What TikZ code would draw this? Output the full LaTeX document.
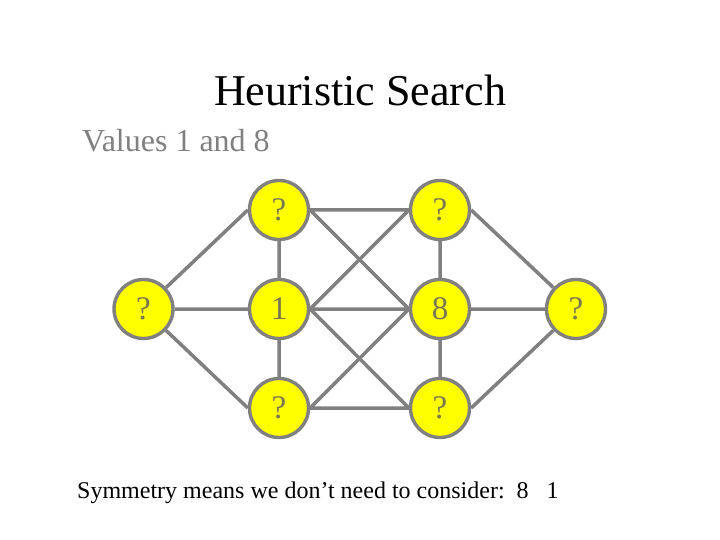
\documentclass[tikz,border=0pt]{standalone}
\usepackage{fontspec}
\setmainfont{Liberation Serif}
\definecolor{edgegray}{RGB}{128,128,128}
\definecolor{nodeyellow}{RGB}{255,255,0}
\definecolor{labelgray}{RGB}{120,120,80}
\definecolor{subgray}{RGB}{128,128,128}
\begin{document}
\begin{tikzpicture}[x=1pt,y=-1pt,
  vnode/.style={circle,draw=edgegray,line width=3.4pt,fill=nodeyellow,minimum size=59pt,inner sep=0pt,
    text=labelgray,font=\fontsize{33}{33}\selectfont},
  link/.style={draw=edgegray,line width=3.5pt}]
\useasboundingbox (0,0) rectangle (720,540);
\fill[white] (0,0) rectangle (720,540);
% edges first (under nodes)
\coordinate (cL) at (143.5,309);
\coordinate (cTL) at (279,210);
\coordinate (cML) at (279,309);
\coordinate (cBL) at (279,408);
\coordinate (cTR) at (440,210);
\coordinate (cMR) at (440,309);
\coordinate (cBR) at (440,408);
\coordinate (cR) at (576,309);
% nodes
\node[vnode] (L) at (cL) {?};
\node[vnode] (TL) at (cTL) {?};
\node[vnode] (ML) at (cML) {1};
\node[vnode] (BL) at (cBL) {?};
\node[vnode] (TR) at (cTR) {?};
\node[vnode] (MR) at (cMR) {8};
\node[vnode] (BR) at (cBR) {?};
\node[vnode] (R) at (cR) {?};
% edges
\path[link] (L) -- (TL.west) (L) -- (ML) (L) -- (BL.west)
  (TL) -- (ML) (ML) -- (BL)
  (TR) -- (MR) (MR) -- (BR)
  (R) -- (TR.east) (R) -- (MR) (R) -- (BR.east)
  (TL) -- (TR) (ML) -- (MR) (BL) -- (BR)
  (TL.east) -- (MR.west) (ML.east) -- (TR.west)
  (ML.east) -- (BR.west) (BL.east) -- (MR.west);
% texts
\node[anchor=base,font=\fontsize{44}{44}\selectfont,inner sep=0pt] (title) at (360,106) {Heuristic Search};
\node[anchor=base west,font=\fontsize{32}{32}\selectfont,text=subgray,inner sep=0pt] (sub) at (82,152) {Values 1 and 8};
\node[anchor=base west,font=\fontsize{24}{24}\selectfont,inner sep=0pt] (note) at (77,498) {Symmetry means we don’t need to consider:\ \ 8\ \ \ 1};
\end{tikzpicture}
\end{document}
